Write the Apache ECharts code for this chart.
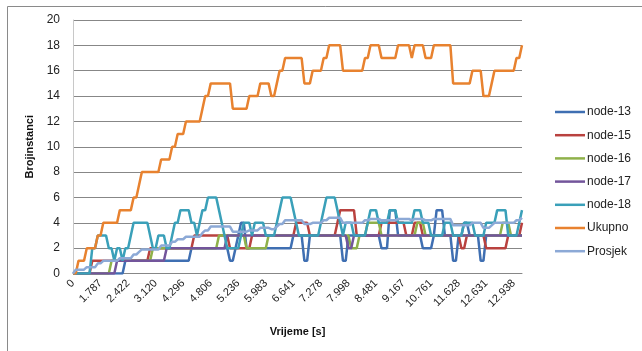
<!DOCTYPE html>
<html>
<head>
<meta charset="utf-8">
<script src="https://cdn.jsdelivr.net/npm/echarts@6/dist/echarts.min.js"></script>
<style>
  html, body { margin: 0; padding: 0; background: #fff; }
  #chart { width: 642px; height: 351px; }
</style>
</head>
<body>
<div id="chart"></div>
<script>
// Time tick labels shown on the x axis (one every 10 samples)
const timeLabels = ['0', '1.787', '2.422', '3.120', '4.296', '4.806', '5.236', '5.983', '6.641',
  '7.278', '7.998', '8.481', '9.167', '10.761', '11.628', '12.631', '12.938'];

// Instance counts per sample
const node13 = [
  0,0,0,0,0,0,0,0,0,0,
  0,0,0,0,0,0,0,0,0,1,
  1,1,1,1,1,1,1,1,1,1,
  1,1,1,1,1,1,1,1,1,1,
  1,1,1,2,2,2,2,2,2,2,
  2,2,2,2,2,2,2,1,1,2,
  3,4,4,2,2,2,2,2,2,2,
  2,2,2,2,2,2,2,2,2,2,
  3,3,3,3,1,1,3,3,3,3,
  3,3,3,3,3,3,3,3,1,1,
  3,3,3,3,3,3,3,3,3,3,
  3,3,2,2,2,5,5,5,3,3,
  3,3,3,3,3,3,3,2,2,2,
  2,3,5,5,5,3,3,3,1,1,
  3,3,4,4,3,3,3,3,1,1,
  3,3,3,3,3,3,3,3,3,3,
  3,3,3,3
];
const node15 = [
  0,0,0,0,0,0,0,1,1,1,
  1,1,1,1,1,1,1,1,1,1,
  1,1,1,1,1,1,1,1,2,2,
  2,2,2,2,2,2,2,2,2,2,
  2,2,2,2,3,3,3,3,3,3,
  3,3,3,3,3,3,3,2,2,2,
  2,2,2,2,2,3,3,3,3,3,
  3,3,3,3,3,3,3,3,3,3,
  3,4,4,4,4,4,3,3,3,3,
  3,3,3,3,3,3,4,5,5,5,
  5,5,5,3,3,3,3,3,3,3,
  3,3,4,4,4,4,4,4,4,4,
  4,3,3,3,4,4,4,3,3,3,
  3,3,3,3,3,3,3,3,3,3,
  3,2,2,3,3,3,3,3,3,3,
  2,2,2,2,2,2,2,2,3,3,
  3,3,3,4
];
const node16 = [
  0,0,0,0,0,0,0,0,0,0,
  0,0,0,0,1,1,1,1,1,1,
  1,1,1,1,1,1,1,1,1,2,
  2,2,2,2,2,2,2,2,2,2,
  2,2,2,2,2,2,2,2,2,2,
  2,2,2,3,3,3,3,3,3,3,
  3,3,3,2,2,2,2,2,2,2,
  2,3,3,3,3,3,3,3,3,3,
  3,3,3,3,3,3,3,3,3,3,
  3,3,3,3,3,3,3,3,3,3,
  3,2,2,2,3,3,3,4,4,4,
  4,4,3,3,3,3,3,3,3,3,
  3,3,3,3,3,4,4,4,3,3,
  3,3,3,3,3,3,3,3,3,3,
  3,3,3,3,3,3,3,3,3,3,
  3,3,3,3,3,3,4,4,4,3,
  3,3,3,3
];
const node17 = [
  0,0,0,0,0,0,0,0,0,0,
  0,0,0,0,0,0,1,1,1,1,
  1,1,1,1,1,1,1,1,1,1,
  1,1,1,1,2,2,2,2,2,2,
  2,2,2,2,2,2,2,2,2,2,
  2,2,2,2,2,2,3,3,3,3,
  3,3,3,3,3,3,3,3,3,3,
  3,3,3,3,3,3,3,3,3,3,
  3,3,3,3,3,3,3,3,3,3,
  3,3,3,3,3,3,3,3,3,3,
  2,2,3,3,3,3,3,3,3,3,
  3,3,3,3,3,3,3,3,3,3,
  3,3,3,3,3,3,3,3,3,3,
  3,3,3,3,3,3,3,3,3,3,
  3,3,3,3,3,3,3,3,3,3,
  3,3,3,3,3,3,3,3,3,3,
  3,3,3,3
];
const node18 = [
  0,0,0,0,0,0,0,2,2,3,
  3,3,3,2,2,1,2,2,1,2,
  2,3,4,4,4,4,4,4,3,2,
  2,3,3,3,2,2,3,4,4,5,
  5,5,5,4,4,3,4,5,5,6,
  6,6,6,5,4,3,2,2,2,2,
  2,3,4,4,4,3,4,4,4,4,
  3,3,3,3,4,5,6,6,6,6,
  5,4,3,3,3,3,3,3,3,3,
  4,5,6,6,6,6,5,4,3,4,
  4,4,3,3,3,3,3,4,5,5,
  5,4,4,4,4,5,5,5,4,4,
  4,4,4,4,5,5,5,4,4,4,
  3,3,3,3,3,4,4,4,3,3,
  3,3,4,4,4,4,3,3,3,3,
  4,4,4,4,5,5,5,5,3,3,
  3,3,4,5
];
const ukupno = [
  0,0,1,1,1,2,2,2,2,3,
  3,4,4,4,4,4,4,5,5,5,
  5,5,6,6,7,8,8,8,8,8,
  8,8,9,9,9,9,10,10,11,11,
  11,12,12,12,12,12,12,13,14,14,
  15,15,15,15,15,15,15,15,13,13,
  13,13,13,13,14,14,14,14,15,15,
  15,15,14,14,15,16,16,17,17,17,
  17,17,17,17,15,15,15,16,16,16,
  16,17,17,18,18,18,18,18,16,16,
  16,16,16,16,16,16,17,17,18,18,
  18,18,17,17,17,17,17,17,18,18,
  18,18,18,17,18,18,18,18,17,17,
  17,18,18,18,18,18,18,18,15,15,
  15,15,15,15,15,16,16,16,16,14,
  14,14,15,16,16,16,16,16,16,16,
  16,17,17,18
];
const prosjek = [
  0,0.3,0.3,0.3,0.3,0.5,0.5,0.5,0.5,0.8,
  0.8,1,1,1,1,1,1,1.2,1.2,1.2,
  1.2,1.2,1.5,1.5,1.7,1.9,1.9,1.9,1.9,1.9,
  1.9,1.9,2.2,2.2,2.2,2.2,2.5,2.5,2.7,2.7,
  2.7,2.9,2.9,2.9,2.9,2.9,2.9,3.2,3.4,3.4,
  3.7,3.7,3.7,3.7,3.7,3.7,3.7,3.7,3.3,3.3,
  3.3,3.3,3.3,3.3,3.4,3.4,3.4,3.4,3.6,3.6,
  3.6,3.6,3.5,3.5,3.7,3.9,3.9,4.2,4.2,4.2,
  4.2,4.2,4.2,4.2,3.9,3.9,3.9,4,4,4,
  4,4.2,4.2,4.4,4.4,4.4,4.4,4.4,4,4,
  4,4,4,4,4,4,4.2,4.2,4.3,4.3,
  4.3,4.3,4.2,4.2,4.2,4.2,4.2,4.2,4.3,4.3,
  4.3,4.3,4.3,4.2,4.3,4.3,4.3,4.3,4.2,4.2,
  4.2,4.3,4.3,4.3,4.3,4.3,4.3,4.3,3.8,3.8,
  3.8,3.8,3.8,3.8,3.8,4,4,4,4,3.6,
  3.6,3.6,3.8,4,4,4,4,4,4,4,
  4,4.2,4.2,4.4
];

const seriesDefs = [
  { name: 'node-13', data: node13, color: '#3F6FB2' },
  { name: 'node-15', data: node15, color: '#B9423F' },
  { name: 'node-16', data: node16, color: '#8FB14A' },
  { name: 'node-17', data: node17, color: '#73559B' },
  { name: 'node-18', data: node18, color: '#3AA0B9' },
  { name: 'Ukupno', data: ukupno, color: '#E8822F' },
  { name: 'Prosjek', data: prosjek, color: '#8CA9D6' }
];

const samples = ukupno.map((_, i) => i);
const FONT = '"Liberation Sans", Arial, sans-serif';

// One legend row per series so the rows keep an even 23px pitch
const legendRows = seriesDefs.map((s, k) => ({
  orient: 'vertical',
  left: 555,
  top: 106 + k * 23.2,
  padding: 0,
  itemWidth: 30,
  itemHeight: 2.5,
  icon: 'rect',
  textStyle: { fontFamily: FONT, fontSize: 12, color: '#222', padding: [0, 0, 0, -3] },
  data: [s.name]
}));

const chart = echarts.init(document.getElementById('chart'));
chart.setOption({
  animation: false,
  backgroundColor: '#ffffff',
  graphic: [{
    type: 'rect',
    shape: { x: 7.5, y: 6.5, width: 700, height: 400 },
    style: { fill: 'none', stroke: '#8a8a8a', lineWidth: 1 },
    silent: true
  }],
  grid: { left: 73, right: 120, top: 20, bottom: 77.5 },
  legend: legendRows,
  xAxis: {
    type: 'category',
    boundaryGap: false,
    data: samples,
    name: 'Vrijeme [s]',
    nameLocation: 'middle',
    nameGap: 53,
    nameTextStyle: { fontFamily: FONT, fontSize: 11, fontWeight: 'bold', color: '#111' },
    axisLine: { show: true, lineStyle: { color: '#878787', width: 1 } },
    axisTick: { show: false },
    axisLabel: {
      interval: 9,
      rotate: 45,
      margin: 8,
      fontFamily: FONT,
      fontSize: 11,
      color: '#222',
      formatter: (v, idx) => timeLabels[idx / 10] !== undefined ? timeLabels[idx / 10] : ''
    },
    splitLine: { show: false }
  },
  yAxis: {
    type: 'value',
    min: 0,
    max: 20,
    interval: 2,
    name: 'Brojinstanci',
    nameLocation: 'middle',
    nameGap: 35,
    nameRotate: 90,
    nameTextStyle: { fontFamily: FONT, fontSize: 11, fontWeight: 'bold', color: '#111' },
    axisLine: { show: true, lineStyle: { color: '#c8c8c8', width: 1 } },
    axisTick: { show: false },
    axisLabel: { margin: 13, fontFamily: FONT, fontSize: 12, color: '#222' },
    splitLine: { show: true, lineStyle: { color: '#878787', width: 1 } }
  },
  series: seriesDefs.map(s => ({
    name: s.name,
    type: 'line',
    data: s.data,
    symbol: 'none',
    showSymbol: false,
    color: s.color,
    lineStyle: { color: s.color, width: 2.5 },
    emphasis: { disabled: true }
  }))
});
</script>
</body>
</html>
